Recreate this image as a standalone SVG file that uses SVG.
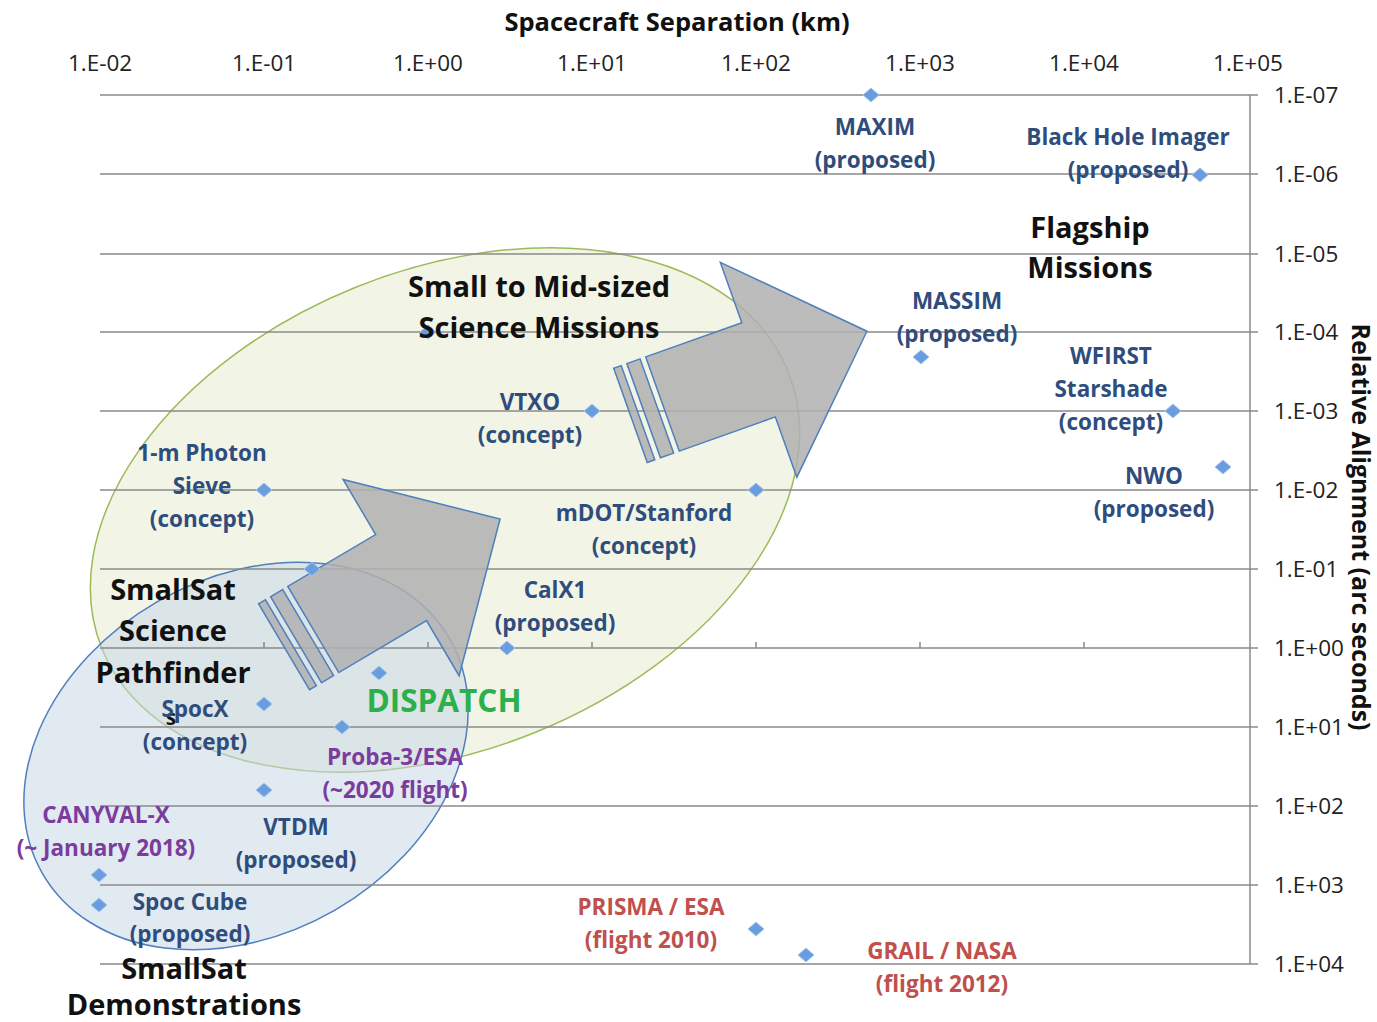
<svg xmlns="http://www.w3.org/2000/svg" xmlns:xlink="http://www.w3.org/1999/xlink" width="1377" height="1022" viewBox="0 0 1377 1022">
<defs>
<style>
text{font-family:"Open Sans","Liberation Sans",sans-serif;}
.ax{font-size:22.5px;fill:#222;}
.axl{font-size:22.5px;fill:#222;text-anchor:start;}
.ttl{font-size:25.5px;font-weight:bold;fill:#111;text-anchor:middle;}
.rt{font-size:25px;font-weight:bold;fill:#111;text-anchor:middle;}
.lb{font-size:22.5px;font-weight:bold;fill:#2f4d7c;text-anchor:middle;}
.pu{font-size:22.5px;font-weight:bold;fill:#7a3c9e;text-anchor:middle;}
.rd{font-size:22.5px;font-weight:bold;fill:#c0504d;text-anchor:middle;}
.hd{font-size:29px;font-weight:bold;fill:#111;text-anchor:middle;}
.gn{font-size:31.5px;font-weight:bold;fill:#2bb04c;text-anchor:middle;}
.grid{stroke:#8a8a8a;stroke-width:1.5;fill:none;}
.arr{fill:#b0b0b0;fill-opacity:0.85;stroke:#4f7fbd;stroke-width:1.5;}
</style>
<path id="dm" d="M0,-7 L8,0 L0,7 L-8,0 Z" fill="#6a9de0" stroke="#a6c4ec" stroke-width="1"/>
<g id="bigarrow">
<path d="M0,-50 L102,-50 L102,-114 L217,0 L102,114 L102,50 L0,50 Z"/>
<rect x="-20" y="-50" width="14" height="100"/>
<rect x="-34" y="-50" width="8" height="100"/>
</g>
</defs>
<rect width="1377" height="1022" fill="#ffffff"/>

<g id="regions">
<ellipse id="small-mid-region" cx="445" cy="510" rx="370" ry="240" transform="rotate(-22 445 510)" fill="#e9ecd6" fill-opacity="0.6" stroke="#9bbb59" stroke-width="1.5"/>
<ellipse id="smallsat-region" cx="246" cy="756" rx="235" ry="178" transform="rotate(-30 246 756)" fill="#c9d7e6" fill-opacity="0.55" stroke="#4f7fbd" stroke-width="1.5"/>
</g>

<g id="grid">
<path class="grid" d="M100,95H1258 M100,174H1258 M100,254H1258 M100,332H1258 M100,411H1258 M100,490H1258 M100,569H1258 M100,648H1258 M100,727H1258 M100,806H1258 M100,885H1258 M100,964H1258 M1250,95V964"/>
<path class="grid" d="M264,642V648 M428,642V648 M592,642V648 M756,642V648 M920,642V648 M1084,642V648"/>
</g>

<g id="axes">
<text class="ttl" x="677" y="31">Spacecraft Separation (km)</text>
<g class="ax" text-anchor="middle">
<text x="100" y="71">1.E-02</text>
<text x="264" y="71">1.E-01</text>
<text x="428" y="71">1.E+00</text>
<text x="592" y="71">1.E+01</text>
<text x="756" y="71">1.E+02</text>
<text x="920" y="71">1.E+03</text>
<text x="1084" y="71">1.E+04</text>
<text x="1248" y="71">1.E+05</text>
</g>
<g class="axl">
<text x="1274" y="103">1.E-07</text>
<text x="1274" y="182">1.E-06</text>
<text x="1274" y="262">1.E-05</text>
<text x="1274" y="340">1.E-04</text>
<text x="1274" y="419">1.E-03</text>
<text x="1274" y="498">1.E-02</text>
<text x="1274" y="577">1.E-01</text>
<text x="1274" y="656">1.E+00</text>
<text x="1274" y="735">1.E+01</text>
<text x="1274" y="814">1.E+02</text>
<text x="1274" y="893">1.E+03</text>
<text x="1274" y="972">1.E+04</text>
</g>
<text class="rt" transform="translate(1352 527) rotate(90)">Relative Alignment (arc seconds)</text>
</g>

<g id="connectors">
<use xlink:href="#bigarrow" class="arr" transform="translate(662.5 404) rotate(-19.6)"/>
<use xlink:href="#bigarrow" class="arr" transform="translate(313.3 629.5) rotate(-30.6)"/>
</g>

<g id="points">
<use xlink:href="#dm" x="871" y="95"/>
<use xlink:href="#dm" x="1200" y="175"/>
<use xlink:href="#dm" x="921" y="357"/>
<use xlink:href="#dm" x="1173" y="411"/>
<use xlink:href="#dm" x="1223" y="467"/>
<use xlink:href="#dm" x="428" y="332"/>
<use xlink:href="#dm" x="592" y="411"/>
<use xlink:href="#dm" x="756" y="490"/>
<use xlink:href="#dm" x="264" y="490"/>
<use xlink:href="#dm" x="312" y="569"/>
<use xlink:href="#dm" x="507" y="648"/>
<use xlink:href="#dm" x="379" y="673"/>
<use xlink:href="#dm" x="264" y="704"/>
<use xlink:href="#dm" x="342" y="727"/>
<use xlink:href="#dm" x="264" y="790"/>
<use xlink:href="#dm" x="99" y="875"/>
<use xlink:href="#dm" x="99" y="905"/>
<use xlink:href="#dm" x="756" y="929"/>
<use xlink:href="#dm" x="806" y="955"/>
</g>

<g id="maxim"><text class="lb" x="875" y="135">MAXIM</text><text class="lb" x="875" y="168">(proposed)</text></g>
<g id="black-hole-imager"><text class="lb" x="1128" y="145">Black Hole Imager</text><text class="lb" x="1128" y="178">(proposed)</text></g>
<g id="flagship"><text class="hd" x="1090" y="238">Flagship</text><text class="hd" x="1090" y="278">Missions</text></g>
<g id="massim"><text class="lb" x="957" y="309">MASSIM</text><text class="lb" x="957" y="342">(proposed)</text></g>
<g id="wfirst"><text class="lb" x="1111" y="364">WFIRST</text><text class="lb" x="1111" y="397">Starshade</text><text class="lb" x="1111" y="430">(concept)</text></g>
<g id="nwo"><text class="lb" x="1154" y="484">NWO</text><text class="lb" x="1154" y="517">(proposed)</text></g>
<g id="small-mid"><text class="hd" x="539" y="297">Small to Mid-sized</text><text class="hd" x="539" y="338">Science Missions</text></g>
<g id="vtxo"><text class="lb" x="530" y="410">VTXO</text><text class="lb" x="530" y="443">(concept)</text></g>
<g id="photon-sieve"><text class="lb" x="202" y="461">1-m Photon</text><text class="lb" x="202" y="494">Sieve</text><text class="lb" x="202" y="527">(concept)</text></g>
<g id="mdot"><text class="lb" x="644" y="521">mDOT/Stanford</text><text class="lb" x="644" y="554">(concept)</text></g>
<g id="calx1"><text class="lb" x="555" y="598">CalX1</text><text class="lb" x="555" y="631">(proposed)</text></g>
<g id="pathfinder"><text class="hd" x="173" y="600">SmallSat</text><text class="hd" x="173" y="641">Science</text><text class="hd" x="173" y="683">Pathfinder</text><text class="hd" x="171" y="725" style="font-size:21px">s</text></g>
<g id="dispatch"><text class="gn" x="444" y="712">DISPATCH</text></g>
<g id="spocx"><text class="lb" x="195" y="717">SpocX</text><text class="lb" x="195" y="750">(concept)</text></g>
<g id="proba3"><text class="pu" x="395" y="765">Proba-3/ESA</text><text class="pu" x="395" y="798">(~2020 flight)</text></g>
<g id="canyval"><text class="pu" x="106" y="823">CANYVAL-X</text><text class="pu" x="106" y="856">(~ January 2018)</text></g>
<g id="vtdm"><text class="lb" x="296" y="835">VTDM</text><text class="lb" x="296" y="868">(proposed)</text></g>
<g id="spoc-cube"><text class="lb" x="190" y="910">Spoc Cube</text><text class="lb" x="190" y="942">(proposed)</text></g>
<g id="demonstrations"><text class="hd" x="184" y="979">SmallSat</text><text class="hd" x="184" y="1015">Demonstrations</text></g>
<g id="prisma"><text class="rd" x="651" y="915">PRISMA / ESA</text><text class="rd" x="651" y="948">(flight 2010)</text></g>
<g id="grail"><text class="rd" x="942" y="959">GRAIL / NASA</text><text class="rd" x="942" y="992">(flight 2012)</text></g>
</svg>
